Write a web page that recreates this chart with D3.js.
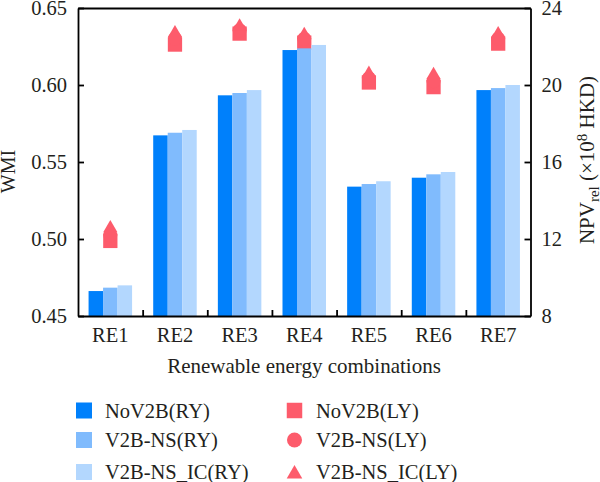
<!DOCTYPE html>
<html lang="en">

<head>
  <meta charset="utf-8">
  <title>WMI and NPV by renewable energy combination</title>
  <script src="https://d3js.org/d3.v7.min.js"></script>
  <style>
    html, body { margin: 0; padding: 0; background: #fff; }
    svg { display: block; }
    text { font-family: "Liberation Serif", serif; fill: #231f20; }
    .axis path, .axis line { stroke: #000; stroke-width: 1.8; }
    .axis text { font-size: 20.5px; font-family: "Liberation Serif", serif; }
    .title { font-size: 21px; }
    .legend text { font-size: 20.5px; }
  </style>
</head>

<body>
  <div id="container"></div>
  <script>
    //DATA
    var categories = ["RE1", "RE2", "RE3", "RE4", "RE5", "RE6", "RE7"];
    var barSeries = ["NoV2B(RY)", "V2B-NS(RY)", "V2B-NS_IC(RY)"];
    var markerSeries = ["NoV2B(LY)", "V2B-NS(LY)", "V2B-NS_IC(LY)"];
    var wmiTicks = [0.45, 0.50, 0.55, 0.60, 0.65];
    var npvTicks = [8, 12, 16, 20, 24];

    var noV2bRY = [0.4662, 0.5673, 0.5933, 0.6227, 0.5340, 0.5398, 0.5967];
    var v2bNsRY = [0.4684, 0.5690, 0.5948, 0.6238, 0.5357, 0.5420, 0.5980];
    var v2bNsIcRY = [0.4699, 0.5708, 0.5967, 0.6260, 0.5375, 0.5435, 0.6000];

    var noV2bLY = [11.9, 22.1, 22.67, 22.2, 20.13, 19.89, 22.15];
    var v2bNsLY = [12.2, 22.4, 22.85, 22.4, 20.35, 20.2, 22.4];
    var v2bNsIcLY = [12.56, 22.69, 23.04, 22.6, 20.58, 20.52, 22.64];

    //CANVAS
    var width = 600, height = 482;
    var left = 78, right = 530.5, top_ = 8, bottom = 316;

    var svg = d3.select("#container").append("svg")
      .attr("width", width)
      .attr("height", height);

    //SCALES
    var x = d3.scaleBand().domain(categories).range([left, right])
      .paddingInner(0.327).paddingOuter(0.1635);
    var xInner = d3.scaleBand().domain(barSeries).range([0, x.bandwidth()]);
    var xEdges = d3.scaleLinear().domain([0, categories.length]).range([left, right]);
    var yLeft = d3.scaleLinear().domain([0.45, 0.65]).range([bottom, top_]);
    var yRight = d3.scaleLinear().domain([8, 24]).range([bottom, top_]);

    var barColor = d3.scaleOrdinal().domain(barSeries).range(["#0080fb", "#80bbfd", "#b3d7fe"]);
    var markerColor = "#fd5b6b";
    var markerSymbols = [d3.symbolSquare, d3.symbolCircle, d3.symbolTriangle];
    var markerSizes = [204, 154, 88];

    //MARKERS (behind the bars)
    [noV2bLY, v2bNsLY, v2bNsIcLY].forEach(function (values, i) {
      svg.append("g").selectAll("path")
        .data(values)
        .join("path")
        .attr("d", d3.symbol().type(markerSymbols[i]).size(markerSizes[i]))
        .attr("fill", markerColor)
        .attr("transform", function (d, j) {
          return "translate(" + (x(categories[j]) + x.bandwidth() / 2) + "," + yRight(d) + ")";
        });
    });

    //BARS
    [noV2bRY, v2bNsRY, v2bNsIcRY].forEach(function (values, i) {
      svg.append("g").selectAll("rect")
        .data(values)
        .join("rect")
        .attr("x", function (d, j) { return x(categories[j]) + xInner(barSeries[i]); })
        .attr("y", function (d) { return yLeft(d); })
        .attr("width", xInner.bandwidth())
        .attr("height", function (d) { return bottom - yLeft(d); })
        .attr("fill", barColor(barSeries[i]));
    });

    //AXES
    svg.append("g").attr("class", "axis")
      .attr("transform", "translate(" + left + ",0)")
      .call(d3.axisLeft(yLeft).tickValues(wmiTicks).tickFormat(d3.format(".2f")).tickSize(-6).tickSizeOuter(0).tickPadding(11));

    svg.append("g").attr("class", "axis")
      .attr("transform", "translate(" + right + ",0)")
      .call(d3.axisRight(yRight).tickValues(npvTicks).tickSize(-6).tickSizeOuter(0).tickPadding(11));

    svg.append("g").attr("class", "axis")
      .attr("transform", "translate(0," + bottom + ")")
      .call(d3.axisBottom(x).tickSize(0).tickPadding(11))
      .select(".domain").remove();

    svg.append("g").attr("class", "axis")
      .attr("transform", "translate(0," + bottom + ")")
      .call(d3.axisBottom(xEdges).tickValues(d3.range(1, categories.length)).tickFormat("").tickSize(-6).tickSizeOuter(0));

    svg.append("g").attr("class", "axis")
      .attr("transform", "translate(0," + top_ + ")")
      .call(d3.axisTop(xEdges).tickValues([]).tickSizeOuter(0));

    //TITLES
    svg.append("text").attr("class", "title")
      .attr("x", 304).attr("y", 372.5)
      .attr("text-anchor", "middle")
      .text("Renewable energy combinations");

    svg.append("text").attr("class", "title")
      .attr("transform", "translate(15,171.5) rotate(-90)")
      .attr("text-anchor", "middle")
      .attr("font-size", 20)
      .style("font-size", "20px")
      .text("WMI");

    var npvTitle = svg.append("text").attr("class", "title")
      .attr("transform", "translate(594,160) rotate(-90)")
      .attr("text-anchor", "middle");
    npvTitle.append("tspan").text("NPV");
    npvTitle.append("tspan").attr("dy", 5).style("font-size", "15px").text("rel");
    npvTitle.append("tspan").attr("dy", -5).text(" (×10");
    npvTitle.append("tspan").attr("dy", -7).style("font-size", "15px").text("8");
    npvTitle.append("tspan").attr("dy", 7).text(" HKD)");

    //LEGEND
    var legendRows = [410.5, 440, 472];
    var legend = svg.append("g").attr("class", "legend");

    barSeries.forEach(function (name, i) {
      legend.append("rect")
        .attr("x", 76).attr("y", legendRows[i] - 8)
        .attr("width", 16).attr("height", 16)
        .attr("fill", barColor(name));
      legend.append("text")
        .attr("x", 105).attr("y", legendRows[i] + 7)
        .text(name);
    });

    markerSeries.forEach(function (name, i) {
      legend.append("path")
        .attr("d", d3.symbol().type(markerSymbols[i]).size([240, 177, 105][i]))
        .attr("fill", markerColor)
        .attr("transform", "translate(294.5," + (legendRows[i] + (i === 2 ? 2 : 0)) + ")");
      legend.append("text")
        .attr("x", 316).attr("y", legendRows[i] + 7)
        .text(name);
    });
  </script>
</body>

</html>
